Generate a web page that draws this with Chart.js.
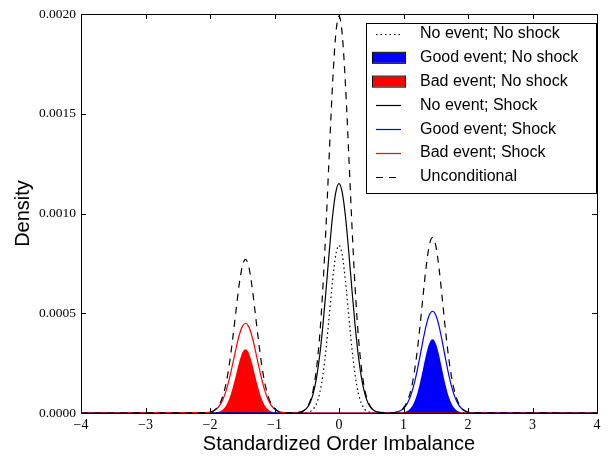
<!DOCTYPE html>
<html>
<head>
<meta charset="utf-8">
<script src="https://cdn.jsdelivr.net/npm/chart.js@4.4.1/dist/chart.umd.min.js"></script>
<style>
html, body { margin: 0; padding: 0; background: #fff; }
#wrap { width: 610px; height: 459px; }
</style>
</head>
<body>
<div id="wrap"><canvas id="density"></canvas></div>
<script>
// x grid: windows round -1.45, 0 and 1.45 (step 0.05), plus the ends
const xLeft = [-2.05, -2.0, -1.95, -1.9, -1.85, -1.8, -1.75, -1.7, -1.65, -1.6, -1.55, -1.5, -1.45,
  -1.4, -1.35, -1.3, -1.25, -1.2, -1.15, -1.1, -1.05, -1.0, -0.95, -0.9, -0.85]
const xMid = [-0.6, -0.55, -0.5, -0.45, -0.4, -0.35, -0.3, -0.25, -0.2, -0.15, -0.1, -0.05, 0,
  0.05, 0.1, 0.15, 0.2, 0.25, 0.3, 0.35, 0.4, 0.45, 0.5, 0.55, 0.6]
const xRight = [0.85, 0.9, 0.95, 1.0, 1.05, 1.1, 1.15, 1.2, 1.25, 1.3, 1.35, 1.4, 1.45,
  1.5, 1.55, 1.6, 1.65, 1.7, 1.75, 1.8, 1.85, 1.9, 1.95, 2.0, 2.05]
const xs = [-4, ...xLeft, ...xMid, ...xRight, 4]

const flat = [0, 0, 0, 0, 0, 0, 0, 0, 0, 0, 0, 0, 0, 0, 0, 0, 0, 0, 0, 0, 0, 0, 0, 0, 0]

const noEventNoShock = [0, ...flat,
  ...[0.0000002, 0.0000006, 0.0000022, 0.0000068, 0.0000187, 0.0000456, 0.0000988, 0.00019, 0.000324, 0.000492, 0.000662, 0.000792, 0.00084,
    0.000792, 0.000662, 0.000492, 0.000324, 0.00019, 0.0000988, 0.0000456, 0.0000187, 0.0000068, 0.0000022, 0.0000006, 0.0000002],
  ...flat, 0]

const goodEventNoShock = [0, ...flat, ...flat,
  ...[0.0000001, 0.0000003, 0.000001, 0.000003, 0.0000083, 0.0000201, 0.0000435, 0.0000837, 0.000143, 0.000217, 0.000292, 0.000349, 0.00037,
    0.000349, 0.000292, 0.000217, 0.000143, 0.0000837, 0.0000435, 0.0000201, 0.0000083, 0.000003, 0.000001, 0.0000003, 0.0000001],
  0]

const badEventNoShock = [0,
  ...[0.0000001, 0.0000002, 0.0000008, 0.0000026, 0.0000071, 0.0000174, 0.0000376, 0.0000724, 0.000124, 0.000187, 0.000252, 0.000302, 0.00032,
    0.000302, 0.000252, 0.000187, 0.000124, 0.0000724, 0.0000376, 0.0000174, 0.0000071, 0.0000026, 0.0000008, 0.0000002, 0.0000001],
  ...flat, ...flat, 0]

const noEventShock = [0, ...flat,
  ...[0.0000044, 0.0000108, 0.0000243, 0.0000505, 0.0000974, 0.000174, 0.000286, 0.000438, 0.00062, 0.000813, 0.000986, 0.001106, 0.00115,
    0.001106, 0.000986, 0.000813, 0.00062, 0.000438, 0.000286, 0.000174, 0.0000974, 0.0000505, 0.0000243, 0.0000108, 0.0000044],
  ...flat, 0]

const goodEventShock = [0, ...flat, ...flat,
  ...[0.000002, 0.0000048, 0.0000108, 0.0000224, 0.0000432, 0.000077, 0.000127, 0.000194, 0.000275, 0.00036, 0.000437, 0.000491, 0.00051,
    0.000491, 0.000437, 0.00036, 0.000275, 0.000194, 0.000127, 0.000077, 0.0000432, 0.0000224, 0.0000108, 0.0000048, 0.000002],
  0]

const badEventShock = [0,
  ...[0.0000017, 0.0000042, 0.0000095, 0.0000198, 0.0000381, 0.000068, 0.000112, 0.000172, 0.000243, 0.000318, 0.000386, 0.000433, 0.00045,
    0.000433, 0.000386, 0.000318, 0.000243, 0.000172, 0.000112, 0.000068, 0.0000381, 0.0000198, 0.0000095, 0.0000042, 0.0000017],
  ...flat, ...flat, 0]

const unconditional = [0,
  ...[0.0000018, 0.0000044, 0.0000103, 0.0000224, 0.0000452, 0.0000854, 0.00015, 0.000244, 0.000367, 0.000505, 0.000638, 0.000735, 0.00077,
    0.000735, 0.000638, 0.000505, 0.000367, 0.000244, 0.00015, 0.0000854, 0.0000452, 0.0000224, 0.0000103, 0.0000044, 0.0000018],
  ...[0.0000046, 0.0000114, 0.0000265, 0.0000573, 0.000116, 0.00022, 0.000385, 0.000628, 0.000944, 0.001305, 0.001648, 0.001898, 0.00199,
    0.001898, 0.001648, 0.001305, 0.000944, 0.000628, 0.000385, 0.00022, 0.000116, 0.0000573, 0.0000265, 0.0000114, 0.0000046],
  ...[0.0000021, 0.0000051, 0.0000118, 0.0000254, 0.0000515, 0.0000971, 0.0001705, 0.000278, 0.000418, 0.000577, 0.000729, 0.00084, 0.00088,
    0.00084, 0.000729, 0.000577, 0.000418, 0.000278, 0.0001705, 0.0000971, 0.0000515, 0.0000254, 0.0000118, 0.0000051, 0.0000021],
  0]

const xTicks = [-4, -3, -2, -1, 0, 1, 2, 3, 4]
const yTicks = [0, 0.0005, 0.001, 0.0015, 0.002]

function pts(series) {
  return xs.map((x, i) => ({x: x, y: series[i]}))
}

function line(label, series, color, dash, order) {
  return {
    label: label, data: pts(series), borderColor: color, backgroundColor: color,
    borderWidth: 1.2, borderDash: dash, fill: false, pointRadius: 0,
    cubicInterpolationMode: 'monotone', order: order
  }
}

function area(label, series, color, order) {
  return {
    label: label, data: pts(series), borderColor: color, backgroundColor: color,
    borderWidth: 0, fill: 'origin', pointRadius: 0, isFill: true,
    cubicInterpolationMode: 'monotone', order: order
  }
}

// inward ticks on all 4 sides + frame
const frame = {
  id: 'frame',
  afterDatasetsDraw(chart) {
    const {ctx, chartArea: a, scales} = chart
    ctx.save()
    ctx.strokeStyle = '#000'
    ctx.lineWidth = 1
    ctx.beginPath()
    xTicks.forEach(v => {
      const px = Math.round(scales.x.getPixelForValue(v)) + 0.5
      ctx.moveTo(px, a.bottom); ctx.lineTo(px, a.bottom - 5)
      ctx.moveTo(px, a.top); ctx.lineTo(px, a.top + 5)
    })
    yTicks.forEach(v => {
      const py = Math.round(scales.y.getPixelForValue(v)) + 0.5
      ctx.moveTo(a.left, py); ctx.lineTo(a.left + 5, py)
      ctx.moveTo(a.right, py); ctx.lineTo(a.right - 5, py)
    })
    ctx.stroke()
    ctx.strokeRect(Math.round(a.left) + 0.5, Math.round(a.top) + 0.5,
      Math.round(a.right - a.left), Math.round(a.bottom - a.top))
    ctx.restore()
  }
}

const legendBox = {
  id: 'legendBox',
  afterDraw(chart) {
    const {ctx, chartArea: a} = chart
    const right = a.right - 1, left = right - 230, top = a.top + 9, bottom = top + 170
    ctx.save()
    ctx.fillStyle = '#fff'
    ctx.fillRect(left, top, right - left, bottom - top)
    ctx.strokeStyle = '#000'
    ctx.lineWidth = 1
    ctx.strokeRect(Math.round(left) + 0.5, Math.round(top) + 0.5, Math.round(right - left), Math.round(bottom - top))
    ctx.font = '16px "Liberation Sans", Arial, sans-serif'
    ctx.textBaseline = 'middle'
    chart.data.datasets.forEach((ds, i) => {
      const cy = top + 11 + i * 23.8
      if (ds.isFill) {
        ctx.fillStyle = ds.backgroundColor
        ctx.fillRect(left + 6, cy - 5, 33, 10)
        ctx.strokeStyle = '#000'
        ctx.setLineDash([])
        ctx.strokeRect(left + 6.5, cy - 5.5, 33, 11)
      } else {
        ctx.strokeStyle = ds.borderColor
        ctx.lineWidth = ds.borderWidth
        ctx.setLineDash(ds.borderDash || [])
        ctx.beginPath()
        ctx.moveTo(left + 10, Math.round(cy) + 0.5)
        ctx.lineTo(left + 35, Math.round(cy) + 0.5)
        ctx.stroke()
        ctx.lineWidth = 1
      }
      ctx.setLineDash([])
      ctx.fillStyle = '#000'
      ctx.fillText(ds.label, left + 54, cy)
    })
    ctx.restore()
  }
}

const ctx = document.getElementById('density').getContext('2d')

new Chart(ctx, {
  type: 'line',
  data: {
    datasets: [
      line('No event; No shock', noEventNoShock, '#000000', [1.5, 3], 5),
      area('Good event; No shock', goodEventNoShock, '#0000ff', 7),
      area('Bad event; No shock', badEventNoShock, '#ff0000', 6),
      line('No event; Shock', noEventShock, '#000000', [], 4),
      line('Good event; Shock', goodEventShock, '#0000ff', [], 3),
      line('Bad event; Shock', badEventShock, '#ff0000', [], 2),
      line('Unconditional', unconditional, '#000000', [7, 6], 1)
    ]
  },
  options: {
    responsive: true,
    maintainAspectRatio: false,
    devicePixelRatio: 1,
    animation: false,
    layout: { padding: { top: 14, right: 13, left: 0, bottom: 0 } },
    plugins: { legend: { display: false }, tooltip: { enabled: false } },
    scales: {
      x: {
        type: 'linear', min: -4, max: 4,
        afterBuildTicks: s => { s.ticks = xTicks.map(v => ({value: v})) },
        afterFit: s => { s.height = 46 },
        grid: { display: false, drawTicks: false },
        border: { display: false },
        ticks: {
          padding: 4, color: '#000', maxRotation: 0,
          font: { family: '"Liberation Serif", "DejaVu Serif", serif', size: 14 },
          callback: v => (v < 0 ? '\u2212' + Math.abs(v) : '' + v)
        },
        title: {
          display: true, text: 'Standardized Order Imbalance', color: '#000',
          font: { family: '"Liberation Sans", Arial, sans-serif', size: 20 },
          padding: { top: 0, bottom: 3 }
        }
      },
      y: {
        min: 0, max: 0.002,
        afterBuildTicks: s => { s.ticks = yTicks.map(v => ({value: v})) },
        afterFit: s => { s.width = 81 },
        grid: { display: false, drawTicks: false },
        border: { display: false },
        ticks: {
          padding: 5, color: '#000',
          font: { family: '"Liberation Serif", "DejaVu Serif", serif', size: 13.5 },
          callback: v => v.toFixed(4)
        },
        title: {
          display: true, text: 'Density', color: '#000',
          font: { family: '"Liberation Sans", Arial, sans-serif', size: 20 },
          padding: { top: 11, bottom: 0 }
        }
      }
    }
  },
  plugins: [frame, legendBox]
})
</script>
</body>
</html>
